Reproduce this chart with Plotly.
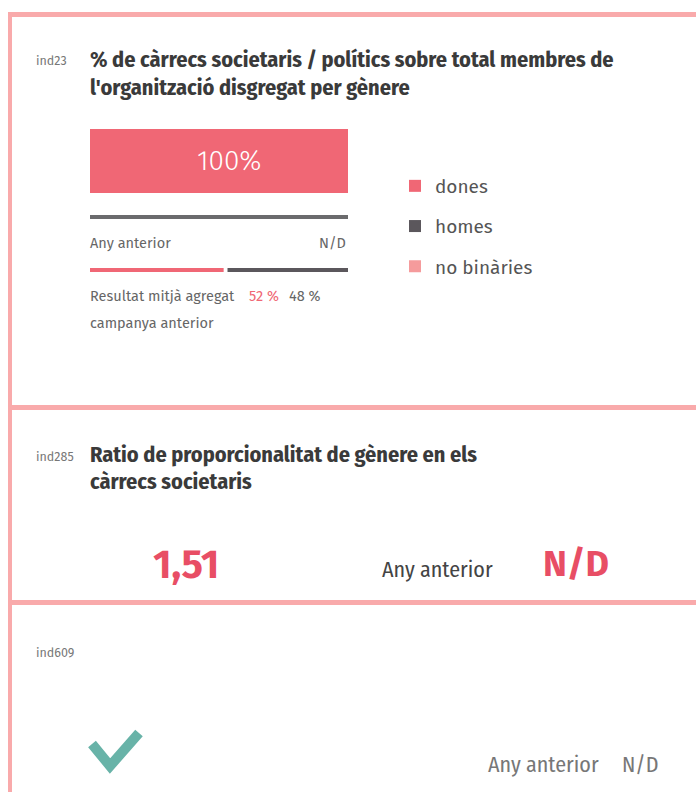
import plotly.graph_objects as go

# ---------------- data ----------------
categories = ["dones", "homes", "no binàries"]
colors = ["#f06775", "#5b575c", "#f59b9c"]
current_values = [100, 0, 0]          # ind23 current year (%)
previous_values = [52, 48, 0]         # aggregate previous campaign (%)
previous_year_label = "N/D"
ratio_value = "1,51"                  # ind285
ratio_previous = "N/D"
ind609_previous = "N/D"

OFF = 0
W, H = 696, 792
FONT = "Fira Sans, Noto Sans, Open Sans, sans-serif"
FONT_LIGHT = "Fira Sans Light, Fira Sans, Noto Sans, sans-serif"
FONT_COND = "Fira Sans Condensed, Liberation Sans Narrow, DejaVu Sans Condensed, sans-serif"
BORDER = "#f9aaab"

def px(x):
    return (x - OFF) / W

def py(y):
    return 1 - (y - OFF) / H

fig = go.Figure()

# current bar (stacked horizontal)
for cat, val, col in zip(categories, current_values, colors):
    fig.add_trace(go.Bar(
        x=[val], y=["actual"], orientation="h", name=cat,
        marker=dict(color=col, line=dict(width=0)),
        legendgroup=cat, xaxis="x", yaxis="y", hoverinfo="name+x",
    ))

# previous campaign aggregate bar
for cat, val, col in zip(categories, previous_values, colors):
    fig.add_trace(go.Bar(
        x=[val], y=["prev"], orientation="h", name=cat,
        marker=dict(color=col, line=dict(width=0)),
        showlegend=False, legendgroup=cat, xaxis="x2", yaxis="y2",
        hoverinfo="name+x",
    ))

fig.update_layout(
    width=W, height=H, autosize=False,
    margin=dict(l=0, r=0, t=0, b=0),
    paper_bgcolor="white", plot_bgcolor="white",
    barmode="stack", bargap=0,
    xaxis=dict(domain=[px(90), px(348)], range=[0, 100], visible=False, fixedrange=True),
    yaxis=dict(domain=[py(193), py(129)], range=[-0.5, 0.5], visible=False, fixedrange=True),
    xaxis2=dict(domain=[px(90), px(348)], range=[0, 100], visible=False, anchor="y2", fixedrange=True),
    yaxis2=dict(domain=[py(272), py(268)], range=[-0.5, 0.5], visible=False, anchor="x2", fixedrange=True),
    showlegend=True,
    legend=dict(x=px(395), y=py(167), xanchor="left", yanchor="top",
                font=dict(family=FONT, size=19, color="#555"),
                tracegroupgap=12.5, itemsizing="constant", bgcolor="rgba(0,0,0,0)"),
    font=dict(family=FONT),
)

shapes = []
# borders
shapes.append(dict(type="rect", xref="paper", yref="paper", x0=px(8), x1=1, y0=py(17), y1=py(12),
                   fillcolor=BORDER, line=dict(width=0), layer="below"))
shapes.append(dict(type="rect", xref="paper", yref="paper", x0=px(8), x1=px(12), y0=0, y1=py(12),
                   fillcolor=BORDER, line=dict(width=0), layer="below"))
shapes.append(dict(type="rect", xref="paper", yref="paper", x0=px(8), x1=1, y0=py(410), y1=py(405),
                   fillcolor=BORDER, line=dict(width=0), layer="below"))
shapes.append(dict(type="rect", xref="paper", yref="paper", x0=px(8), x1=1, y0=py(605), y1=py(600),
                   fillcolor=BORDER, line=dict(width=0), layer="below"))
# previous year bar (N/D -> gray)
shapes.append(dict(type="rect", xref="x", yref="paper", x0=0, x1=100, y0=py(219), y1=py(215),
                   fillcolor="#6b6b6d", line=dict(width=0)))
# gap between previous aggregate segments
shapes.append(dict(type="rect", xref="x2", yref="paper", x0=previous_values[0] - 0.2,
                   x1=previous_values[0] + 1.3, y0=py(274), y1=py(266),
                   fillcolor="white", line=dict(width=0)))
# check mark
shapes.append(dict(type="path", xref="paper", yref="paper",
                   path=f"M {px(92)} {py(744)} L {px(110)} {py(766)} L {px(139)} {py(733)}",
                   line=dict(color="#68b3a8", width=10), layer="above"))
fig.update_layout(shapes=shapes)

ann = []
def text(x, y, s, size, color, family=FONT, anchor="left", bold=False):
    if bold:
        s = f"<b>{s}</b>"
    ann.append(dict(xref="paper", yref="paper", x=px(x), y=py(y), text=s, showarrow=False,
                    xanchor=anchor, yanchor="middle",
                    font=dict(size=size, color=color, family=family), align="left"))

# value label inside the current bar
ann.append(dict(xref="x", yref="y", x=current_values[0] / 2, y="actual", xshift=10,
                text=f"{current_values[0]}%", showarrow=False,
                font=dict(size=28, color="white", family=FONT_LIGHT)))

# section 1
text(34, 61, "ind23", 12.5, "#777")
text(88, 59, "% de càrrecs societaris / polítics sobre total membres de", 22.2, "#3a3a3a", FONT_COND, bold=True)
text(88, 87, "l'organització disgregat per gènere", 22.2, "#3a3a3a", FONT_COND, bold=True)
text(88, 243, "Any anterior", 14.5, "#666")
text(348, 243, previous_year_label, 14.5, "#666", anchor="right")
text(88, 296, "Resultat mitjà agregat", 14.5, "#666")
text(247, 296, f"{previous_values[0]} %", 14.5, "#f06775")
text(287, 296, f"{previous_values[1]} %", 14.5, "#666")
text(88, 323, "campanya anterior", 14.5, "#666")

# section 2
text(34, 456, "ind285", 12.5, "#777")
text(88, 454, "Ratio de proporcionalitat de gènere en els", 22.2, "#3a3a3a", FONT_COND, bold=True)
text(88, 481, "càrrecs societaris", 22.2, "#3a3a3a", FONT_COND, bold=True)
text(186, 565, ratio_value, 40, "#e84e65", FONT, anchor="center", bold=True)
text(437, 569, "Any anterior", 22, "#444", FONT_COND, anchor="center")
text(576, 564, ratio_previous, 36, "#e84e65", FONT, anchor="center", bold=True)

# section 3
text(34, 652, "ind609", 12.5, "#777")
text(543, 764, "Any anterior", 22, "#777", FONT_COND, anchor="center")
text(640, 764, ind609_previous, 22, "#777", FONT_COND, anchor="center")

fig.update_layout(annotations=ann)
fig.write_html(
    "out.html",
    config={"displayModeBar": False},
    post_script="document.body.style.margin='0';document.body.style.overflow='hidden';",
)
